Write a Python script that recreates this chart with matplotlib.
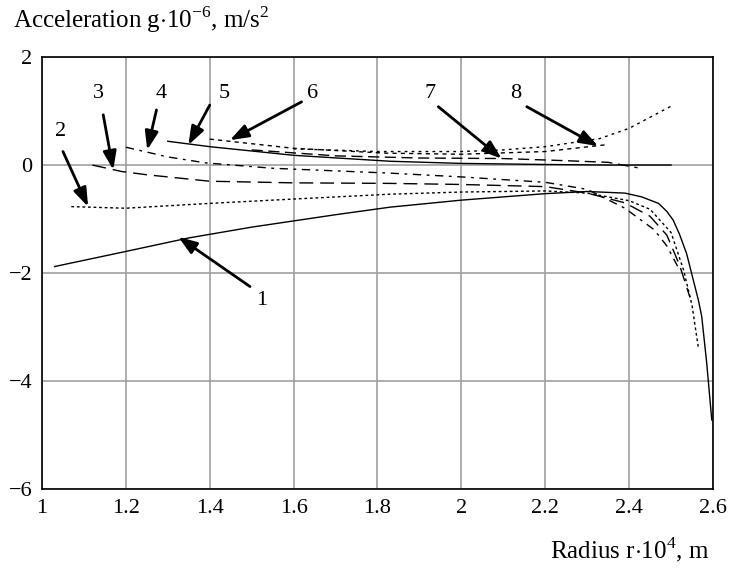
import numpy as np
import matplotlib
matplotlib.use("Agg")
import matplotlib.pyplot as plt

plt.rcParams['font.family'] = 'Liberation Serif'
plt.rcParams['mathtext.fontset'] = 'custom'
plt.rcParams['mathtext.rm'] = 'Liberation Serif'
plt.rcParams['axes.unicode_minus'] = True

# curve data, radius (x10^4 m) vs acceleration (x10^-6 m/s^2)
r1 = [1.03, 1.2, 1.35, 1.5, 1.7, 1.83, 2.0, 2.2, 2.3, 2.39, 2.43, 2.47, 2.49, 2.505, 2.52, 2.537, 2.553, 2.565, 2.573, 2.585, 2.597]
g1 = [-1.88, -1.6, -1.35, -1.15, -0.92, -0.78, -0.65, -0.53, -0.49, -0.52, -0.59, -0.71, -0.86, -1.02, -1.28, -1.64, -2.13, -2.5, -2.8, -3.67, -4.72]

r2 = [1.07, 1.2, 1.4, 1.6, 1.83, 2.0, 2.2, 2.3, 2.4, 2.45, 2.5, 2.53, 2.55, 2.565]
g2 = [-0.77, -0.80, -0.71, -0.63, -0.54, -0.50, -0.48, -0.52, -0.66, -0.82, -1.25, -1.95, -2.6, -3.38]

r3 = [1.12, 1.19, 1.25, 1.4, 1.6, 1.83, 2.0, 2.2, 2.3, 2.39, 2.45, 2.49, 2.52, 2.545]
g3 = [0.0, -0.12, -0.18, -0.30, -0.33, -0.34, -0.36, -0.40, -0.52, -0.70, -0.95, -1.3, -1.85, -2.45]

r4 = [1.20, 1.3, 1.39, 1.55, 1.83, 2.0, 2.2, 2.3, 2.39, 2.46, 2.49, 2.52]
g4 = [0.33, 0.15, 0.04, -0.06, -0.15, -0.22, -0.32, -0.45, -0.80, -1.2, -1.5, -1.94]

r5 = [1.30, 1.4, 1.6, 1.83, 2.0, 2.2, 2.35, 2.5]
g5 = [0.44, 0.34, 0.18, 0.07, 0.03, 0.01, 0.0, 0.0]

r6 = [1.40, 1.6, 1.82, 2.0, 2.2, 2.35]
g6 = [0.48, 0.31, 0.22, 0.20, 0.25, 0.38]

r7 = [1.5, 1.7, 1.9, 2.1, 2.25, 2.35, 2.42]
g7 = [0.28, 0.17, 0.13, 0.12, 0.08, 0.05, -0.05]

r8 = [1.6, 1.8, 2.0, 2.1, 2.2, 2.33, 2.4, 2.5]
g8 = [0.30, 0.25, 0.25, 0.28, 0.34, 0.49, 0.68, 1.09]

curve_labels = ['1', '2', '3', '4', '5', '6', '7', '8']
label_xy = [(1.525, -2.5), (1.045, 0.62), (1.135, 1.33), (1.285, 1.33),
            (1.435, 1.33), (1.645, 1.33), (1.925, 1.33), (2.13, 1.33)]
arrow_tail = [(1.496, -2.25), (1.05, 0.25), (1.146, 0.93), (1.273, 1.02),
              (1.40, 1.11), (1.619, 1.17), (1.945, 1.08), (2.156, 1.08)]
arrow_tip = [(1.325, -1.33), (1.11, -0.77), (1.17, -0.09), (1.251, 0.28),
             (1.349, 0.37), (1.448, 0.46), (2.096, 0.12), (2.326, 0.35)]

xticks = [1, 1.2, 1.4, 1.6, 1.8, 2, 2.2, 2.4, 2.6]
xtick_labels = ['1', '1.2', '1.4', '1.6', '1.8', '2', '2.2', '2.4', '2.6']
yticks = [-6, -4, -2, 0, 2]

fig = plt.figure(figsize=(7.35, 5.68), dpi=100)
ax = fig.add_axes([0.0571, 0.139, 0.913, 0.7606])

curves = [(r1, g1, '-'), (r2, g2, (0, (2, 2))), (r3, g3, (0, (10, 5))),
          (r4, g4, (0, (6, 4, 2, 4))), (r5, g5, '-'), (r6, g6, (0, (3, 3))),
          (r7, g7, (0, (8, 4))), (r8, g8, (0, (2, 3)))]
for r, g, ls in curves:
    ax.plot(r, g, color='black', lw=1.0, linestyle=ls)

# numbered arrows
for lab, txy, tail, tip in zip(curve_labels, label_xy, arrow_tail, arrow_tip):
    ax.text(txy[0], txy[1], lab, fontsize=16, ha='center', va='center')
    ax.annotate('', xy=tip, xytext=tail,
                arrowprops=dict(arrowstyle='-|>,head_length=0.7,head_width=0.25',
                                color='black', lw=2.0,
                                mutation_scale=16, shrinkA=0, shrinkB=0))

ax.set_xlim(1, 2.6)
ax.set_ylim(-6, 2)
ax.set_xticks(xticks)
ax.set_xticklabels(xtick_labels)
ax.set_yticks(yticks)
ax.tick_params(length=0, labelsize=16, pad=7)

ax.grid(True, color='#a0a0a0', lw=1.2)
for s in ax.spines.values():
    s.set_linewidth(1.2)

fig.text(0.018, 0.965, r'Acceleration g$\cdot$10$^{-6}$, m/s$^2$', fontsize=18,
         ha='left', va='center')
fig.text(0.857, 0.032, r'Radius r$\cdot$10$^4$, m', fontsize=18,
         ha='center', va='center')

fig.savefig('out.png', dpi=100)
